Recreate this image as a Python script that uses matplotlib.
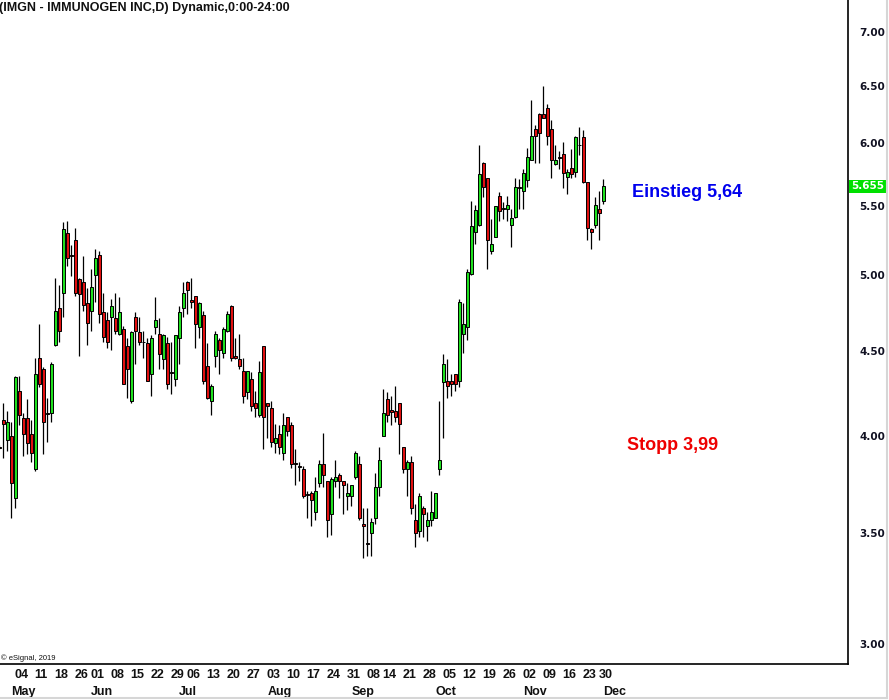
"""IMGN daily candlestick chart (eSignal look) with entry / stop notes.

Saves out.png (889x700).
"""

import matplotlib
matplotlib.use("Agg")
import matplotlib.pyplot as plt
import matplotlib.ticker as ticker
import matplotlib.transforms as mtransforms
from matplotlib.lines import Line2D
import numpy as np

# ---------------------------------------------------------------------------
# Data (daily OHLC)
# ---------------------------------------------------------------------------

OPENS = [
    3.94, 4.09, 3.98, 4.00, 3.67, 4.26, 4.10, 4.10, 4.01, 3.82,
    4.46, 4.39, 4.13, 4.13, 4.54, 4.78, 4.88, 5.30, 5.14, 5.25,
    4.97, 4.95, 4.81, 4.76, 5.00, 5.14, 4.75, 4.70, 4.72, 4.71,
    4.61, 4.64, 4.53, 4.20, 4.72, 4.62, 4.56, 4.55, 4.36, 4.65,
    4.61, 4.45, 4.55, 4.37, 4.33, 4.58, 4.78, 4.95, 4.83, 4.86,
    4.65, 4.73, 4.41, 4.20, 4.47, 4.57, 4.49, 4.63, 4.79, 4.47,
    4.45, 4.38, 4.25, 4.33, 4.19, 4.12, 4.53, 4.19, 4.16, 3.96,
    4.01, 3.91, 4.11, 4.06, 3.855, 3.84, 3.82, 3.69, 3.70, 3.60,
    3.75, 3.85, 3.76, 3.59, 3.76, 3.79, 3.76, 3.68, 3.68, 3.78,
    3.85, 3.54, 3.45, 3.50, 3.57, 3.73, 4.00, 4.21, 4.15, 4.14,
    4.19, 3.94, 3.82, 3.86, 3.56, 3.51, 3.62, 3.53, 3.56, 3.57,
    3.82, 4.31, 4.32, 4.315, 4.36, 4.32, 4.61, 4.65, 5.01, 5.31,
    5.36, 5.84, 5.72, 5.17, 5.27, 5.58, 5.475, 5.48, 5.36, 5.42,
    5.645, 5.62, 5.70, 5.86, 6.12, 6.25, 6.25, 6.30, 6.12, 5.83,
    5.89, 5.91, 5.73, 5.80, 5.77, 5.99, 6.05, 5.69, 5.33, 5.36,
    5.48, 5.54,
]
HIGHS = [
    3.95, 4.19, 4.14, 4.08, 4.35, 4.35, 4.13, 4.21, 4.09, 4.46,
    4.67, 4.40, 4.22, 4.43, 4.98, 4.93, 5.38, 5.39, 5.21, 5.34,
    4.98, 5.13, 4.91, 5.04, 5.18, 5.17, 4.88, 4.75, 4.84, 4.88,
    4.85, 4.66, 4.58, 4.63, 4.75, 4.72, 4.63, 4.58, 4.60, 4.85,
    4.71, 4.61, 4.59, 4.56, 4.60, 4.79, 4.95, 4.96, 4.98, 4.86,
    4.82, 4.76, 4.55, 4.30, 4.63, 4.58, 4.65, 4.76, 4.80, 4.58,
    4.61, 4.46, 4.38, 4.37, 4.26, 4.44, 4.53, 4.19, 4.20, 4.07,
    4.06, 4.13, 4.11, 4.08, 3.93, 3.86, 3.84, 3.71, 3.71, 3.78,
    3.87, 4.02, 3.76, 3.78, 3.87, 3.80, 3.76, 3.75, 3.74, 3.92,
    3.89, 3.62, 3.62, 3.57, 3.80, 3.94, 4.27, 4.25, 4.23, 4.29,
    4.19, 3.94, 3.87, 3.89, 3.64, 3.70, 3.63, 3.60, 3.71, 3.70,
    4.20, 4.48, 4.45, 4.36, 4.36, 4.84, 4.81, 5.04, 5.54, 5.51,
    5.99, 5.85, 5.72, 5.40, 5.50, 5.61, 5.53, 5.58, 5.48, 5.72,
    5.71, 5.79, 5.96, 6.37, 6.15, 6.26, 6.50, 6.34, 6.20, 5.99,
    5.94, 6.01, 5.79, 5.95, 6.06, 6.14, 6.11, 5.69, 5.34, 5.57,
    5.62, 5.71,
]
LOWS = [
    3.93, 3.88, 3.92, 3.57, 3.62, 4.06, 3.89, 3.90, 3.86, 3.81,
    4.28, 3.90, 3.97, 4.08, 4.53, 4.56, 4.72, 5.06, 4.99, 4.86,
    4.47, 4.76, 4.54, 4.63, 4.82, 4.68, 4.56, 4.52, 4.51, 4.61,
    4.60, 4.30, 4.22, 4.19, 4.42, 4.54, 4.46, 4.32, 4.23, 4.61,
    4.39, 4.39, 4.27, 4.24, 4.29, 4.42, 4.72, 4.74, 4.78, 4.52,
    4.58, 4.30, 4.21, 4.12, 4.40, 4.36, 4.46, 4.62, 4.44, 4.45,
    4.39, 4.19, 4.21, 4.14, 4.11, 4.11, 3.93, 3.99, 3.94, 3.91,
    3.90, 3.87, 4.00, 3.83, 3.74, 3.76, 3.67, 3.57, 3.53, 3.56,
    3.73, 3.73, 3.48, 3.49, 3.73, 3.67, 3.59, 3.61, 3.63, 3.77,
    3.56, 3.38, 3.39, 3.39, 3.54, 3.68, 4.00, 4.08, 4.06, 4.08,
    3.90, 3.80, 3.68, 3.59, 3.43, 3.48, 3.48, 3.46, 3.53, 3.57,
    3.79, 3.99, 4.22, 4.23, 4.26, 4.28, 4.49, 4.57, 5.00, 5.22,
    5.35, 5.57, 5.04, 5.15, 5.27, 5.39, 5.40, 5.39, 5.20, 5.41,
    5.48, 5.48, 5.65, 5.86, 5.84, 5.84, 6.21, 5.99, 5.72, 5.82,
    5.79, 5.64, 5.59, 5.72, 5.73, 5.90, 5.68, 5.25, 5.18, 5.34,
    5.25, 5.52,
]
CLOSES = [
    3.935, 4.07, 4.08, 3.75, 4.34, 4.12, 4.01, 3.96, 3.91, 4.36,
    4.30, 4.08, 4.125, 4.42, 4.76, 4.63, 5.33, 5.12, 5.135, 4.88,
    4.87, 4.80, 4.68, 4.92, 5.12, 4.74, 4.59, 4.56, 4.79, 4.63,
    4.75, 4.30, 4.39, 4.62, 4.63, 4.56, 4.555, 4.32, 4.58, 4.70,
    4.48, 4.60, 4.30, 4.365, 4.60, 4.75, 4.88, 4.90, 4.82, 4.67,
    4.81, 4.32, 4.22, 4.29, 4.61, 4.51, 4.64, 4.74, 4.46, 4.455,
    4.41, 4.23, 4.38, 4.17, 4.16, 4.37, 4.11, 4.17, 3.97, 3.99,
    3.94, 4.06, 4.03, 3.85, 3.85, 3.835, 3.68, 3.685, 3.66, 3.71,
    3.85, 3.79, 3.56, 3.77, 3.78, 3.76, 3.74, 3.70, 3.74, 3.91,
    3.57, 3.53, 3.445, 3.55, 3.73, 3.87, 4.13, 4.12, 4.135, 4.11,
    4.07, 3.82, 3.86, 3.62, 3.50, 3.68, 3.59, 3.56, 3.60, 3.70,
    3.87, 4.42, 4.29, 4.30, 4.30, 4.82, 4.67, 5.02, 5.35, 5.47,
    5.75, 5.65, 5.25, 5.22, 5.50, 5.46, 5.485, 5.51, 5.41, 5.65,
    5.64, 5.76, 5.89, 6.06, 6.06, 6.09, 6.21, 6.06, 5.86, 5.86,
    5.88, 5.76, 5.77, 5.75, 6.05, 5.985, 5.69, 5.34, 5.31, 5.51,
    5.45, 5.655,
]

# weekly date labels (bar index where the label starts) and month labels
WEEK_POS = [4, 9, 14, 19, 23, 28, 33, 38, 43, 47, 52, 57, 62, 67, 72, 77,
            82, 87, 92, 96, 101, 106, 111, 116, 121, 126, 131, 136, 141, 146, 150]
WEEK_LABELS = ["04", "11", "18", "26", "01", "08", "15", "22", "29", "06",
               "13", "20", "27", "03", "10", "17", "24", "31", "08", "14",
               "21", "28", "05", "12", "19", "26", "02", "09", "16", "23", "30"]
MONTH_POS = [3, 23, 45, 67, 88, 109, 131, 151]
MONTH_LABELS = ["May", "Jun", "Jul", "Aug", "Sep", "Oct", "Nov", "Dec"]

PRICE_TICKS = [3.0, 3.5, 4.0, 4.5, 5.0, 5.5, 6.0, 6.5, 7.0]
LAST_PRICE = 5.655
ENTRY_TEXT = "Einstieg 5,64"
STOP_TEXT = "Stopp 3,99"
TITLE = "(IMGN - IMMUNOGEN INC,D) Dynamic,0:00-24:00"

# ---------------------------------------------------------------------------
# Style
# ---------------------------------------------------------------------------

plt.rcParams.update({
    "font.family": "sans-serif",
    "font.sans-serif": ["Liberation Sans", "DejaVu Sans"],
    "figure.facecolor": "white",
    "axes.facecolor": "white",
    "savefig.facecolor": "white",
})

UP = "#1fe01f"
DOWN = "#e01010"
W, H = 889, 700


def main() -> None:
    o = np.array(OPENS)
    h = np.array(HIGHS)
    l = np.array(LOWS)
    c = np.array(CLOSES)
    x = np.arange(len(o))

    fig = plt.figure(figsize=(W / 100, H / 100), dpi=100)
    ax = fig.add_axes([0, 36 / H, 848 / W, 664 / H])
    ax.set_yscale("log")

    # candles: wicks first, bodies on top
    ax.vlines(x, l, h, color="black", linewidth=0.9, zorder=2)
    colors = np.where(c >= o, UP, DOWN)
    ax.bar(x, c - o, bottom=o, width=0.72, color=colors,
           edgecolor="black", linewidth=0.7, zorder=3)

    ax.set_xlim(0.175, 212.2)
    ax.set_ylim(2.918, 7.317)

    # axes frame: only right + bottom
    for side in ("top", "left"):
        ax.spines[side].set_visible(False)
    for side in ("right", "bottom"):
        ax.spines[side].set_color("black")
        ax.spines[side].set_linewidth(1.2)

    ax.yaxis.tick_right()
    ax.yaxis.set_major_locator(ticker.FixedLocator(PRICE_TICKS))
    ax.yaxis.set_minor_locator(ticker.NullLocator())
    ax.yaxis.set_major_formatter(ticker.FuncFormatter(lambda v, _: f"{v:.2f}"))
    ax.tick_params(axis="y", length=0, pad=8, labelsize=7.5, colors="#111122")
    for lab in ax.get_yticklabels():
        lab.set_fontfamily("DejaVu Sans")
        lab.set_fontweight("bold")
    ax.tick_params(axis="x", length=0, labelbottom=False)

    # date rows under the chart
    trans = mtransforms.blended_transform_factory(ax.transData, ax.transAxes)
    for k, lab in zip(WEEK_POS, WEEK_LABELS):
        ax.text(k - 0.2, -0.0215, lab, transform=trans, ha="left", va="baseline",
                fontsize=9, fontweight="bold", color="#111111", clip_on=False)
    for k, lab in zip(MONTH_POS, MONTH_LABELS):
        ax.text(k, -0.0467, lab, transform=trans, ha="left", va="baseline",
                fontsize=9, fontweight="bold", color="#111111", clip_on=False)

    # last price flag on the price axis
    ptrans = mtransforms.blended_transform_factory(ax.transAxes, ax.transData)
    ax.text(1 + 3 / 848, LAST_PRICE, f"{LAST_PRICE:.3f}", transform=ptrans,
            ha="left", va="center", fontsize=7.5, fontweight="bold",
            family="DejaVu Sans", color="white", clip_on=False,
            bbox=dict(boxstyle="square,pad=0.15", fc="#00e000", ec="none"))

    # trade notes
    ax.text(158.2, 5.571, ENTRY_TEXT, ha="left", va="baseline",
            fontsize=13, fontweight="bold", color="#0000ee")
    ax.text(156.9, 3.924, STOP_TEXT, ha="left", va="baseline",
            fontsize=13, fontweight="bold", color="#ee0000")

    # header / footer texts
    fig.text(-1 / W, 1 - 11.3 / H, TITLE, ha="left", va="baseline",
             fontsize=9, fontweight="bold", color="#111111")
    fig.text(1 / W, 1 - 660 / H, "\u00a9 eSignal, 2019", ha="left", va="baseline",
             fontsize=5.5, color="#111111")

    # light grey window border (right and bottom)
    fig.add_artist(Line2D([887 / W, 887 / W], [2 / H, 1], transform=fig.transFigure,
                          color="#d6d6d6", linewidth=1.5))
    fig.add_artist(Line2D([0, 887 / W], [2 / H, 2 / H], transform=fig.transFigure,
                          color="#d6d6d6", linewidth=1.5))

    fig.savefig("out.png", dpi=100)
    plt.close(fig)


if __name__ == "__main__":
    main()
